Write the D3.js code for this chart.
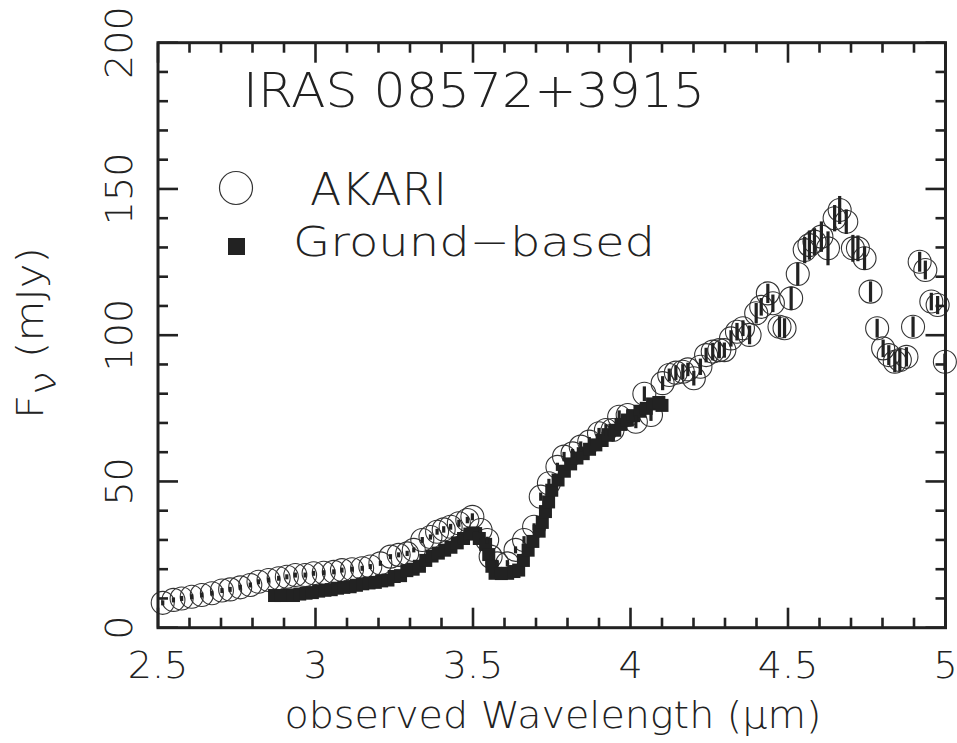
<!DOCTYPE html>
<html>
<head>
<meta charset="utf-8">
<script src="https://cdn.jsdelivr.net/npm/d3@7"></script>
<style>
  body { margin: 0; background: #fff; }
  text { font-family: "DejaVu Sans", sans-serif; font-weight: 200; fill: #222; }
</style>
</head>
<body>
<div class="chart"></div>
<script>
// AKARI spectrum (wavelength in um, flux in mJy, 1-sigma error)
var akariWave = [2.515,2.549,2.575,2.607,2.639,2.671,2.703,2.729,2.761,2.793,
  2.819,2.851,2.883,2.909,2.936,2.967,2.994,3.026,3.058,3.084,
  3.116,3.148,3.174,3.206,3.238,3.264,3.291,3.312,3.339,3.365,
  3.386,3.407,3.429,3.455,3.482,3.498,3.524,3.545,3.556,3.577,
  3.609,3.635,3.662,3.694,3.715,3.741,3.768,3.789,3.816,3.842,
  3.869,3.900,3.922,3.943,3.964,3.991,4.017,4.044,4.065,4.102,
  4.123,4.144,4.166,4.182,4.201,4.222,4.240,4.261,4.282,4.298,
  4.319,4.338,4.357,4.378,4.399,4.415,4.436,4.452,4.473,4.489,
  4.510,4.531,4.553,4.568,4.584,4.606,4.627,4.648,4.664,4.685,
  4.706,4.722,4.743,4.762,4.783,4.802,4.820,4.839,4.855,4.876,
  4.897,4.918,4.936,4.955,4.975,4.998];
var akariFlux = [8.5,9.5,10.0,10.6,11.2,11.8,12.7,13.1,13.8,14.6,
  15.7,16.3,16.9,17.4,18.0,18.0,18.6,18.8,19.1,19.7,
  20.0,20.3,20.9,22.0,24.3,24.9,25.4,26.6,30.0,31.0,
  32.8,33.6,34.5,35.7,36.8,37.9,33.4,30.0,24.3,22.0,
  22.0,26.6,30.0,34.5,44.8,49.4,55.0,58.5,59.6,61.9,
  63.6,66.5,67.6,67.6,72.1,72.7,70.4,80.0,72.7,83.6,
  86.4,87.2,87.5,88.3,85.3,89.2,93.2,94.4,94.9,94.9,
  98.9,101.2,102.4,100.1,107.5,109.7,114.3,110.9,102.9,102.4,
  112.6,120.9,129.1,130.8,132.0,133.7,129.7,140.0,142.8,138.8,
  129.7,129.7,126.3,114.9,102.4,95.5,93.2,90.9,91.5,92.6,
  102.9,125.1,122.3,111.5,110.3,90.9];
var akariErr = [0.6,0.5,0.5,0.5,0.5,0.5,0.6,0.5,0.5,0.6,
  0.5,0.6,0.5,0.5,0.6,0.5,0.6,0.6,0.5,0.6,
  0.7,0.6,0.7,0.8,0.8,0.7,0.9,0.8,1.0,0.9,
  1.0,1.1,1.0,1.2,1.1,1.2,1.0,1.1,1.2,1.0,
  1.1,1.2,1.3,1.2,1.4,1.5,1.4,1.6,1.5,1.8,
  1.6,1.8,2.0,1.8,2.2,2.0,2.2,2.5,2.0,2.4,
  2.2,2.5,2.6,2.3,2.5,2.8,2.5,3.0,2.8,2.6,
  2.8,3.0,2.7,3.2,3.5,3.0,3.3,3.0,3.6,3.4,
  4.0,3.8,4.5,5.0,4.6,5.2,5.8,4.5,4.8,4.2,
  4.6,4.4,4.0,3.5,3.2,3.0,3.4,3.6,3.8,3.3,
  3.5,3.4,3.2,3.0,3.1,2.8];

// ground-based spectrum
var groundWave = [2.87,2.89,2.91,2.93,2.95,2.97,2.99,3.01,3.03,3.05,
  3.07,3.09,3.11,3.13,3.15,3.17,3.19,3.21,3.23,3.25,
  3.27,3.29,3.31,3.33,3.35,3.37,3.39,3.41,3.43,3.45,
  3.47,3.49,3.50,3.52,3.54,3.55,3.56,3.57,3.59,3.61,
  3.63,3.645,3.66,3.675,3.69,3.71,3.72,3.73,3.74,3.75,
  3.77,3.79,3.81,3.83,3.85,3.87,3.89,3.91,3.93,3.95,
  3.97,3.99,4.01,4.03,4.05,4.07,4.09,4.10];
var groundFlux = [11.0,11.0,11.2,11.0,11.5,11.8,12.0,12.5,12.8,13.0,
  13.5,13.8,14.0,14.5,15.0,15.3,15.5,16.0,16.3,17.5,
  17.8,19.5,20.0,21.0,23.0,24.5,25.5,26.5,27.5,29.0,
  30.5,32.0,32.4,30.5,28.5,25.0,21.0,18.6,18.5,18.6,
  19.2,19.7,23.0,26.5,29.5,33.0,36.0,39.7,43.0,47.0,
  50.5,53.5,56.0,58.0,59.5,61.0,62.5,64.0,66.0,67.5,
  69.5,71.0,72.5,74.0,75.0,76.5,77.0,76.0];

// axis ticks
var xMajor = [2.5, 3, 3.5, 4, 4.5, 5];
var xLabels = ["2.5", "3", "3.5", "4", "4.5", "5"];
var yMajor = [0, 50, 100, 150, 200];
var yLabels = ["0", "50", "100", "150", "200"];

drawChart();

function drawChart() {
  var svgWidth = 957, svgHeight = 743;
  var plotLeft = 158, plotRight = 945.5, plotTop = 42.7, plotBottom = 627.7;

  var svg = d3.select(".chart").append("svg")
    .attr("width", svgWidth)
    .attr("height", svgHeight);

  var xScale = d3.scaleLinear().domain([2.5, 5]).range([plotLeft, plotRight]);
  var yScale = d3.scaleLinear().domain([0, 200]).range([plotBottom, plotTop]);

  var akari = akariWave.map((w, i) => ({ w: w, f: akariFlux[i], e: akariErr[i] }));
  var ground = groundWave.map((w, i) => ({ w: w, f: groundFlux[i] }));

  // AKARI open circles
  svg.append("g").selectAll("circle")
    .data(akari)
    .enter()
    .append("circle")
    .attr("cx", d => xScale(d.w))
    .attr("cy", d => yScale(d.f))
    .attr("r", 11.5)
    .attr("fill", "none")
    .attr("stroke", "#333")
    .attr("stroke-width", 1.1);

  // ground-based filled squares
  var sq = 13;
  svg.append("g").selectAll("rect")
    .data(ground)
    .enter()
    .append("rect")
    .attr("x", d => xScale(d.w) - sq / 2)
    .attr("y", d => yScale(d.f) - sq / 2)
    .attr("width", sq)
    .attr("height", sq)
    .attr("fill", "#222");

  // AKARI error bars
  svg.append("g").selectAll("rect")
    .data(akari)
    .enter()
    .append("rect")
    .attr("x", d => xScale(d.w) - 1.6)
    .attr("y", d => Math.min(yScale(d.f + d.e), yScale(d.f) - 2.5))
    .attr("width", 3.2)
    .attr("height", d => Math.max(yScale(d.f - d.e) - yScale(d.f + d.e), 5))
    .attr("fill", "#222");

  // frame
  svg.append("rect")
    .attr("x", plotLeft).attr("y", plotTop)
    .attr("width", plotRight - plotLeft).attr("height", plotBottom - plotTop)
    .attr("fill", "none")
    .attr("stroke", "#222")
    .attr("stroke-width", 3);

  // ticks on all four sides, pointing inward
  var ticks = svg.append("g").attr("stroke", "#222").attr("stroke-width", 2.6);
  d3.range(2.5, 5.001, 0.1).forEach(function(v) {
    var major = xMajor.some(m => Math.abs(m - v) < 1e-6);
    var len = major ? 20 : 10;
    ticks.append("line").attr("x1", xScale(v)).attr("x2", xScale(v))
      .attr("y1", plotBottom).attr("y2", plotBottom - len);
    ticks.append("line").attr("x1", xScale(v)).attr("x2", xScale(v))
      .attr("y1", plotTop).attr("y2", plotTop + len);
  });
  d3.range(0, 200.001, 10).forEach(function(v) {
    var major = yMajor.some(m => Math.abs(m - v) < 1e-6);
    var len = major ? 20 : 10;
    ticks.append("line").attr("y1", yScale(v)).attr("y2", yScale(v))
      .attr("x1", plotLeft).attr("x2", plotLeft + len);
    ticks.append("line").attr("y1", yScale(v)).attr("y2", yScale(v))
      .attr("x1", plotRight).attr("x2", plotRight - len);
  });

  // tick labels
  svg.append("g").selectAll("text")
    .data(xMajor)
    .enter()
    .append("text")
    .attr("x", d => xScale(d))
    .attr("y", 678)
    .attr("text-anchor", "middle")
    .attr("font-size", 38)
    .text((d, i) => xLabels[i]);

  svg.append("g").selectAll("text")
    .data(yMajor)
    .enter()
    .append("text")
    .attr("transform", d => `translate(132, ${yScale(d)}) rotate(-90)`)
    .attr("text-anchor", "middle")
    .attr("font-size", 38)
    .text((d, i) => yLabels[i]);

  // axis titles
  svg.append("text")
    .attr("x", 553)
    .attr("y", 728)
    .attr("text-anchor", "middle")
    .attr("font-size", 38)
    .attr("textLength", 537)
    .attr("lengthAdjust", "spacingAndGlyphs")
    .text("observed Wavelength (\u03bcm)");

  var yTitle = svg.append("text")
    .attr("transform", "translate(43, 333) rotate(-90)")
    .attr("text-anchor", "middle")
    .attr("font-size", 38)
    .attr("textLength", 172)
    .attr("lengthAdjust", "spacingAndGlyphs");
  yTitle.append("tspan").text("F");
  yTitle.append("tspan").attr("dy", 13).attr("font-size", 38).text("\u03bd");
  yTitle.append("tspan").attr("dy", -13).text(" (mJy)");

  // object name
  svg.append("text")
    .attr("x", 243)
    .attr("y", 107)
    .attr("font-size", 48)
    .attr("textLength", 462)
    .attr("lengthAdjust", "spacingAndGlyphs")
    .text("IRAS 08572+3915");

  // legend
  svg.append("circle")
    .attr("cx", 236).attr("cy", 188).attr("r", 16.5)
    .attr("fill", "none").attr("stroke", "#333").attr("stroke-width", 1.2);
  svg.append("text")
    .attr("x", 310).attr("y", 205)
    .attr("font-size", 45)
    .attr("textLength", 137)
    .attr("lengthAdjust", "spacingAndGlyphs")
    .text("AKARI");
  svg.append("rect")
    .attr("x", 228).attr("y", 238).attr("width", 17).attr("height", 17)
    .attr("fill", "#222");
  svg.append("text")
    .attr("x", 293).attr("y", 256)
    .attr("font-size", 40)
    .attr("textLength", 362)
    .attr("lengthAdjust", "spacingAndGlyphs")
    .text("Ground\u2212based");
}
</script>
</body>
</html>
